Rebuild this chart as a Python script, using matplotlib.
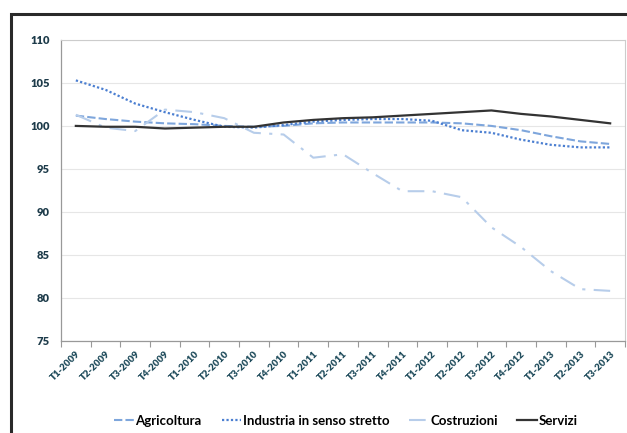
import numpy as np
import matplotlib
matplotlib.use("Agg")
from matplotlib import pyplot as plt
from matplotlib.patches import Rectangle

quarters = ["T1-2009", "T2-2009", "T3-2009", "T4-2009", "T1-2010", "T2-2010", "T3-2010",
            "T4-2010", "T1-2011", "T2-2011", "T3-2011", "T4-2011", "T1-2012", "T2-2012",
            "T3-2012", "T4-2012", "T1-2013", "T2-2013", "T3-2013"]
agricoltura = [101.2, 100.8, 100.5, 100.3, 100.2, 100.0, 99.9, 100.0, 100.3, 100.4,
               100.4, 100.4, 100.4, 100.3, 100.0, 99.5, 98.8, 98.2, 97.9]
industria = [105.3, 104.2, 102.6, 101.6, 100.7, 99.9, 99.8, 100.1, 100.5, 100.7,
             100.8, 100.8, 100.6, 99.5, 99.2, 98.4, 97.8, 97.5, 97.5]
costruzioni = [101.3, 99.8, 99.4, 101.9, 101.6, 100.9, 99.2, 99.0, 96.3, 96.7,
               94.5, 92.4, 92.4, 91.7, 88.2, 85.9, 83.1, 81.0, 80.8]
servizi = [100.0, 99.9, 99.9, 99.7, 99.8, 99.9, 99.9, 100.4, 100.7, 100.9,
           101.0, 101.2, 101.4, 101.6, 101.8, 101.4, 101.1, 100.7, 100.3]
yticks = [75, 80, 85, 90, 95, 100, 105, 110]

plt.rcParams['font.family'] = ['Lato', 'DejaVu Sans']

fig = plt.figure(figsize=(6.27, 4.33), dpi=100)
# outer frame, running off the right and bottom edges
fig.patches.append(Rectangle((10.5 / 627, -0.1), 1.2, 1 - 13.5 / 433 + 0.1,
                             transform=fig.transFigure, fill=False,
                             edgecolor='#2a2a2a', linewidth=2.2))

ax = fig.add_axes([61 / 627, 1 - 340.7 / 433, 564 / 627, 300.7 / 433])
x = np.arange(len(quarters))

ax.plot(x, agricoltura, color='#7ea6dc', linestyle=(0, (4, 1.5)), linewidth=1.5, label='Agricoltura')
ax.plot(x, industria, color='#4b7fd1', linestyle=(0, (1, 1)), linewidth=1.6, label='Industria in senso stretto')
ax.plot(x, costruzioni, color='#b7cdea', linestyle=(0, (8, 4, 1.5, 4)), linewidth=1.5, label='Costruzioni')
ax.plot(x, servizi, color='#333333', linewidth=1.6, label='Servizi')

ax.set_xlim(-0.5, len(quarters) - 0.5)
ax.set_ylim(75, 110)
ax.set_yticks(yticks)
ax.set_yticklabels([str(v) for v in yticks], fontsize=8, fontweight='heavy', color='#1d3b4a')
ax.set_xticks(np.arange(len(quarters) + 1) - 0.5)
ax.set_xticklabels([])
ax.set_xticks(x, minor=True)
ax.set_xticklabels(quarters, minor=True, rotation=45, ha='right', rotation_mode='anchor',
                   fontsize=7, fontweight='heavy', color='#1d4a5a')
ax.tick_params(axis='x', which='major', length=4, color='#999999', direction='out')
ax.tick_params(axis='x', which='minor', length=0, pad=6)
ax.tick_params(axis='y', length=0, pad=8)
ax.yaxis.grid(True, color='#e6e6e6', linewidth=0.8)
ax.set_axisbelow(True)
for side in ['top', 'right']:
    ax.spines[side].set_color('#cccccc')
    ax.spines[side].set_linewidth(0.8)
for side in ['left', 'bottom']:
    ax.spines[side].set_color('#999999')
    ax.spines[side].set_linewidth(0.9)

fig.legend(loc='center', bbox_to_anchor=(346 / 627, 1 - 421 / 433), ncol=4, frameon=False,
           prop={'size': 9.5, 'weight': 'bold'}, handlelength=1.45, handletextpad=0.15,
           columnspacing=1.5)

fig.savefig('out.png', dpi=100)
